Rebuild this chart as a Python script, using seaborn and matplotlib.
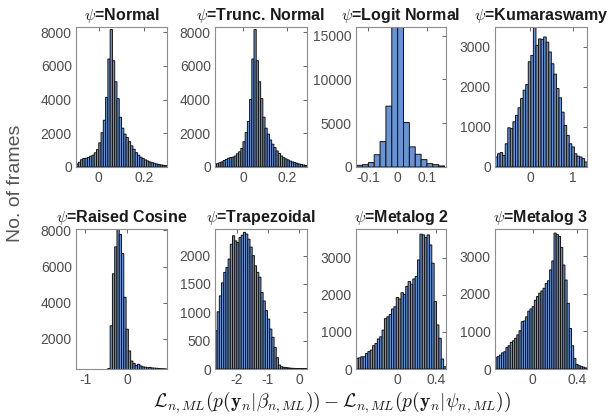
import numpy as np
import pandas as pd
import seaborn as sns
import matplotlib.pyplot as plt

# distribution names (panel titles)
titles = ['Normal', 'Trunc. Normal', 'Logit Normal', 'Kumaraswamy',
          'Raised Cosine', 'Trapezoidal', 'Metalog 2', 'Metalog 3']

# histogram counts, with first bin edge and bin width
normal_start, normal_width = -0.1, 0.01
normal_counts = [180, 280, 430, 500, 520, 560, 640, 700, 840, 1030,
                 1430, 2030, 2770, 4120, 6400, 8150, 6300, 5050, 4050, 2950,
                 2300, 1950, 1750, 1500, 1250, 1050, 850, 700, 580, 500,
                 420, 360, 300, 260, 220, 180, 150, 120, 100, 80]

trunc_start, trunc_width = -0.13, 0.01
trunc_counts = [120, 200, 250, 300, 380, 450, 520, 560, 580, 650,
                780, 900, 1100, 1500, 2050, 2700, 4000, 6400, 8150, 6300,
                5050, 4050, 2950, 2300, 1950, 1600, 1350, 1150, 950, 800,
                650, 550, 480, 420, 350, 300, 260, 220, 180, 150,
                120, 90]

logit_start, logit_width = -0.14, 0.02
logit_counts = [190, 270, 500, 1400, 2900, 6950, 17500, 17000, 5080, 2300,
                1450, 840, 380, 270, 120]

kuma_start, kuma_width = -0.82, 0.06
kuma_counts = [250, 330, 360, 290, 580, 980, 960, 1130, 1290, 1480,
               1710, 1920, 2060, 2630, 2790, 3600, 3040, 3200, 3190, 3250,
               3120, 2875, 2580, 2320, 1960, 1730, 1370, 1040, 790, 580,
               500, 330, 270, 250, 210, 125]

cosine_start, cosine_width = -1.22, 0.0545
cosine_counts = [0, 0, 0, 0, 0, 0, 0, 0, 0, 0,
                 10, 30, 80, 200, 360, 2725, 5600, 7090, 8200, 7775,
                 6720, 4300, 2535, 1330, 770, 640, 530, 590, 500, 450,
                 430, 400, 420, 390, 380, 370, 360, 350, 345, 335]

trap_start, trap_width = -2.70, 0.0702
trap_counts = [676, 1010, 1290, 1520, 1705, 1790, 1940, 2200, 2350, 2260,
               2230, 2320, 2360, 2410, 2380, 2290, 2150, 2000, 1820, 1705,
               1620, 1350, 1200, 1030, 880, 705, 560, 380, 200, 70,
               40, 30, 25, 20, 15, 12, 10, 8, 6, 5, 4, 3]

meta2_start, meta2_width = -0.42, 0.0242
meta2_counts = [290, 300, 330, 330, 420, 470, 510, 630, 690, 810,
                870, 1050, 1360, 1410, 1470, 1620, 1680, 1930, 1890, 2060,
                2010, 2230, 2360, 2290, 2430, 2500, 2945, 3640, 3620, 3550,
                3620, 3350, 2855, 1820, 1190, 830, 270, 60]

meta3_start, meta3_width = -0.343, 0.0198
meta3_counts = [300, 330, 370, 430, 460, 570, 620, 710, 750, 820,
                910, 1020, 1260, 1280, 1390, 1540, 1600, 1660, 1830, 1930,
                2020, 2080, 2150, 2280, 2350, 2640, 2880, 3620, 3580, 3530,
                3240, 2770, 2370, 1750, 1080, 620, 280, 120, 90, 70,
                50, 30]

panels = [
    (normal_start, normal_width, normal_counts),
    (trunc_start, trunc_width, trunc_counts),
    (logit_start, logit_width, logit_counts),
    (kuma_start, kuma_width, kuma_counts),
    (cosine_start, cosine_width, cosine_counts),
    (trap_start, trap_width, trap_counts),
    (meta2_start, meta2_width, meta2_counts),
    (meta3_start, meta3_width, meta3_counts),
]

# axis limits and ticks per panel
xlims = [(-0.1, 0.3), (-0.127, 0.29), (-0.142, 0.165), (-0.82, 1.335),
         (-1.22, 0.96), (-2.70, 0.25), (-0.42, 0.50), (-0.343, 0.49)]
ylims = [(0, 8300), (0, 8300), (0, 16000), (0, 3500),
         (330, 8080), (0, 2470), (0, 3780), (0, 3730)]
xticks = [[0, 0.2], [0, 0.2], [-0.1, 0, 0.1], [0, 1],
          [-1, 0], [-2, -1, 0], [0, 0.4], [0, 0.4]]
yticks = [[0, 2000, 4000, 6000, 8000], [0, 2000, 4000, 6000, 8000],
          [0, 5000, 10000, 15000], [0, 1000, 2000, 3000],
          [2000, 4000, 6000, 8000], [0, 500, 1000, 1500, 2000],
          [0, 1000, 2000, 3000], [0, 1000, 2000, 3000]]

sns.set_style('white')
plt.rcParams['font.family'] = ['Liberation Sans', 'DejaVu Sans']
plt.rcParams['mathtext.fontset'] = 'cm'

fig = plt.figure(figsize=(6.13, 4.18), dpi=100)

col_x = [0.124, 0.3507, 0.5808, 0.8075]
col_w = [0.1485, 0.150, 0.1468, 0.150]
row_y = [0.6005, 0.1172]
row_h = 0.335

bar_color = '#6a93d4'
grey = '#4d4d4d'

for i, (start, width, counts) in enumerate(panels):
    r, c = divmod(i, 4)
    ax = fig.add_axes([col_x[c], row_y[r], col_w[c], row_h])
    edges = start + width * np.arange(len(counts) + 1)
    df = pd.DataFrame({'x': (edges[:-1] + edges[1:]) / 2, 'n': counts})
    sns.histplot(data=df, x='x', weights='n', bins=list(edges), ax=ax,
                 color=bar_color, edgecolor='#111111', linewidth=0.7,
                 alpha=1, snap=False)
    ax.set_xlim(xlims[i])
    ax.set_ylim(ylims[i])
    ax.set_xticks(xticks[i])
    ax.set_yticks(yticks[i])
    ax.set_xticklabels([f'{v:g}' for v in xticks[i]])
    ax.set_yticklabels([f'{v:g}' for v in yticks[i]])
    ax.set_xlabel('')
    ax.set_ylabel('')
    ax.tick_params(direction='in', length=3, width=0.6, top=True, right=True,
                   labelsize=10, colors=grey, labelcolor=grey, pad=3)
    for sp in ax.spines.values():
        sp.set_color('#8c8c8c')
        sp.set_linewidth(0.8)
    ax.set_title(r'$\psi$=' + titles[i], fontsize=11.5, fontweight='bold',
                 color='#1a1a1a', pad=5)

fig.text(0.025, 0.562, 'No. of frames', rotation=90, ha='center', va='center',
         fontsize=14, color='#555555')
fig.text(0.542, 0.038,
         r'$\mathcal{L}_{n,ML}(p(\mathbf{y}_n|\beta_{n,ML}))'
         r' - \mathcal{L}_{n,ML}(p(\mathbf{y}_n|\psi_{n,ML}))$',
         ha='center', va='center', fontsize=14, color='#1a1a1a')

fig.savefig('out.png', dpi=100)
